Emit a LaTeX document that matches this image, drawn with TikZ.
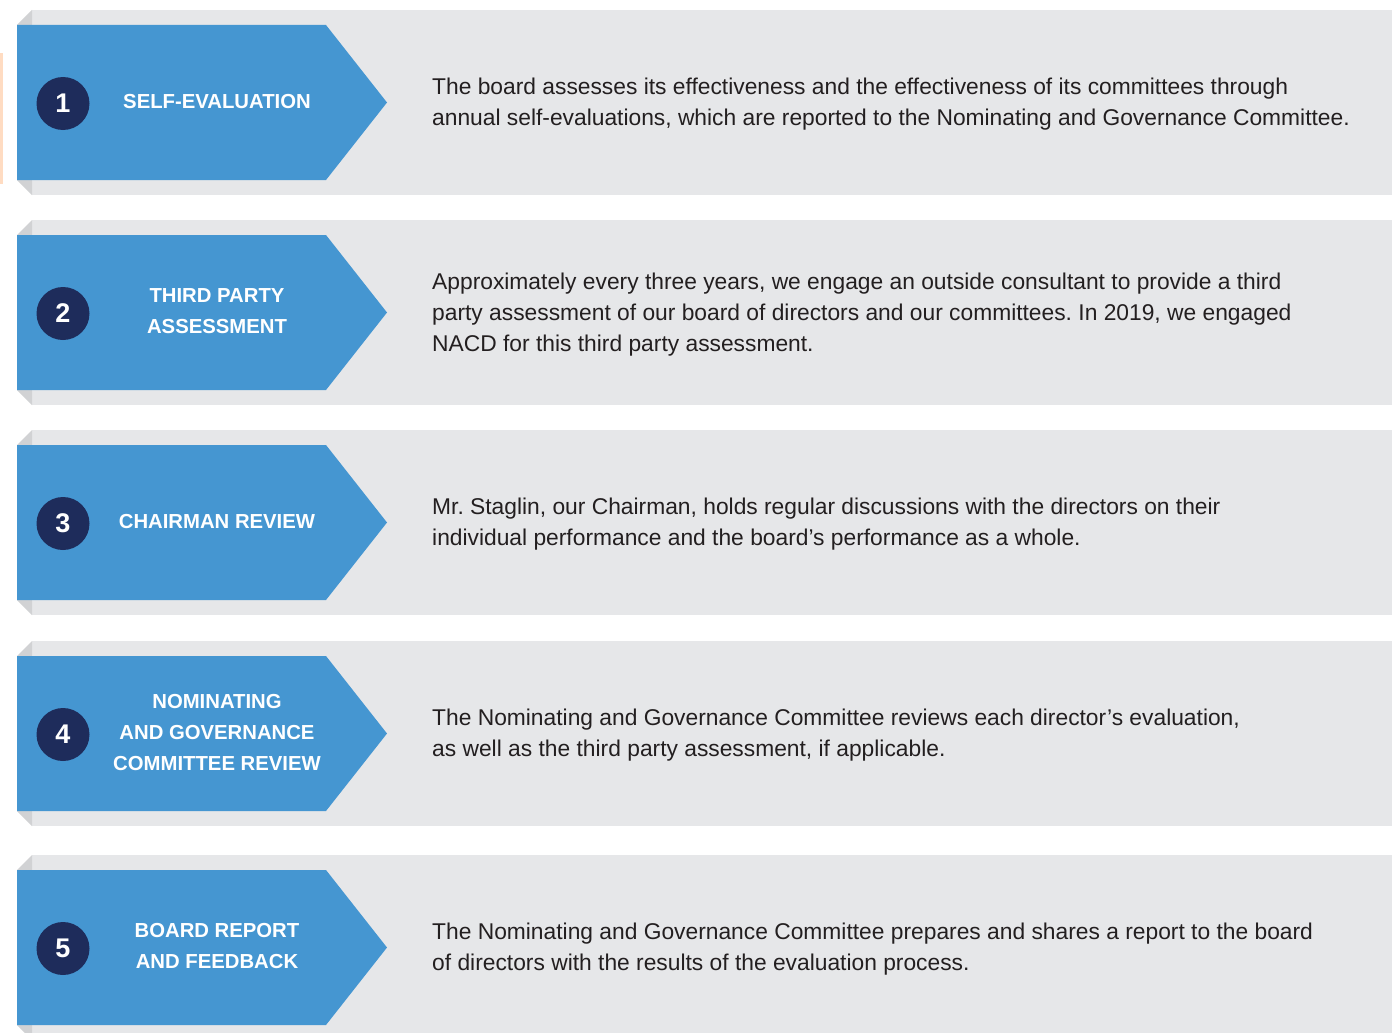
\documentclass[tikz,border=0pt]{standalone}
\usepackage{fontspec}
\setmainfont{Liberation Sans}
\usetikzlibrary{positioning}
\frenchspacing

\definecolor{panelgray}{HTML}{E6E7E9}
\definecolor{foldgray}{HTML}{D1D2D4}
\definecolor{stepblue}{HTML}{4596D1}
\definecolor{stepnavy}{HTML}{1E2C5B}
\definecolor{bodytext}{HTML}{231F20}
\definecolor{tabpeach}{HTML}{FFDCC2}

% one step: #1 top of the panel, #2 number, #3 label, #4 description
\newcommand{\evalstep}[4]{%
  \fill[panelgray] (32,#1) rectangle (1392,#1+185);
  \fill[foldgray] (17,#1+15) -- (32,#1) -- (32,#1+15) -- cycle;
  \fill[foldgray] (17,#1+170) -- (32,#1+170) -- (32,#1+185) -- cycle;
  \fill[stepblue] (17,#1+15) -- (326,#1+15) -- (387,#1+92.5)
    -- (326,#1+170) -- (17,#1+170) -- cycle;
  \node[stepnum] (num#2) at (63,#1+93.5) {#2};
  \node[steplabel] (label#2) at (217,#1+91.5) {#3};
  \node[stepdesc] (desc#2) at (432,#1+94.5) {#4};
}

\begin{document}
\begin{tikzpicture}[x=1pt,y=-1pt]
\tikzstyle{stepnum}=[circle, fill=stepnavy, minimum size=53, inner sep=0,
  text=white, font=\fontsize{27}{27}\selectfont\bfseries]
\tikzstyle{steplabel}=[align=center, inner sep=0, text=white,
  font=\fontsize{20.3}{31}\selectfont\bfseries]
\tikzstyle{stepdesc}=[anchor=west, align=left, inner sep=0, text=bodytext,
  font=\fontsize{22.8}{31}\selectfont]

\clip (0,0) rectangle (1392,1033);
\fill[white] (0,0) rectangle (1392,1033);

% tab on the far left
\fill[tabpeach] (0,53) rectangle (3,184);

\evalstep{10}{1}{SELF-EVALUATION}
  {The board assesses its effectiveness and the effectiveness of its committees through\\
   annual self-evaluations, which are reported to the Nominating and Governance Committee.}
\evalstep{220}{2}{THIRD PARTY\\ASSESSMENT}
  {Approximately every three years, we engage an outside consultant to provide a third\\
   party assessment of our board of directors and our committees. In 2019, we engaged\\
   NACD for this third party assessment.}
\evalstep{430}{3}{CHAIRMAN REVIEW}
  {Mr. Staglin, our Chairman, holds regular discussions with the directors on their\\
   individual performance and the board’s performance as a whole.}
\evalstep{641}{4}{NOMINATING\\AND GOVERNANCE\\COMMITTEE REVIEW}
  {The Nominating and Governance Committee reviews each director’s evaluation,\\
   as well as the third party assessment, if applicable.}
\evalstep{855}{5}{BOARD REPORT\\AND FEEDBACK}
  {The Nominating and Governance Committee prepares and shares a report to the board\\
   of directors with the results of the evaluation process.}
\end{tikzpicture}
\end{document}
